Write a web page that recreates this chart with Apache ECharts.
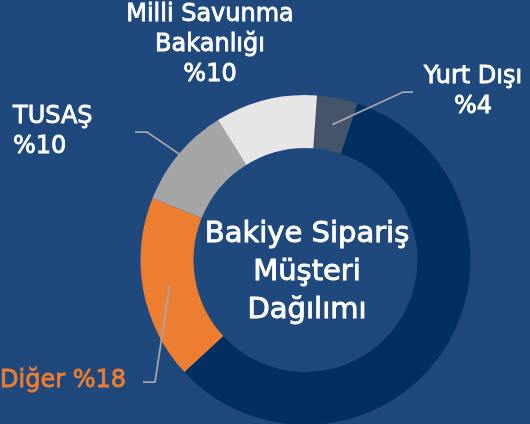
<!DOCTYPE html>
<html>
<head>
<meta charset="utf-8">
<script src="https://cdn.jsdelivr.net/npm/echarts@6/dist/echarts.min.js"></script>
<style>
  html, body { margin: 0; padding: 0; background: #1F497D; }
  #chart { width: 530px; height: 424px; }
</style>
</head>
<body>
<div id="chart"></div>
<script>
// bakiye sipariş, müşteri payları (%), saat yönünde tepeden başlayarak
const customers = ['Yurt Dışı', '', 'Diğer', 'TUSAŞ', 'Milli Savunma Bakanlığı'];
const shares = [4, 58, 18, 10, 10];
const sliceColors = ['#44546A', '#012F61', '#ED7D31', '#A5A5A5', '#E7E6E6'];
const labelColors = ['#FFFFFF', '#FFFFFF', '#ED7D31', '#FFFFFF', '#FFFFFF'];
const centerTitle = 'Bakiye Sipariş\nMüşteri\nDağılımı';

// etiket yerleşimi (sadece görünüm)
const labelNames = ['Yurt Dışı', '', 'Diğer', 'TUSAŞ', 'Milli Savunma\nBakanlığı'];
const labelSep = ['\n', '', ' ', '\n', '\n'];
const onRim = [false, false, false, true, false];
const labelSpots = [
  { x: 473, y: 92, align: 'center', bend: [403, 92], end: [413, 92] },
  null,
  { x: 0, y: 381, align: 'left', bend: [155, 382], end: [143, 382] },
  { x: 13, y: 132, align: 'left', bend: [147, 132], end: [135, 132] },
  { x: 210, y: 45, align: 'center' }
];

const font = 'DejaVu Sans';
const center = [305.5, 260];

function layoutLabel(params) {
  const s = labelSpots[params.dataIndex];
  if (!s) return {};
  const out = { x: s.x, y: s.y, align: s.align, verticalAlign: 'middle' };
  if (s.bend && params.labelLinePoints) {
    out.labelLinePoints = [params.labelLinePoints[0], s.bend, s.end];
  }
  return out;
}

function itemsFor(rim, transparent) {
  return shares.map((v, i) => {
    const show = labelSpots[i] != null && onRim[i] === rim;
    return {
      value: v,
      name: customers[i],
      itemStyle: { color: transparent ? 'rgba(0,0,0,0)' : sliceColors[i] },
      label: { show: show, color: labelColors[i], textBorderColor: labelColors[i] },
      labelLine: { show: show && !!(labelSpots[i] && labelSpots[i].bend) }
    };
  });
}

const labelCommon = {
  position: 'outside',
  formatter: p => labelNames[p.dataIndex] + labelSep[p.dataIndex] + '%' + p.value,
  fontFamily: font,
  fontSize: 24,
  lineHeight: 30,
  textBorderWidth: 0.8
};
const lineCommon = {
  length: 10,
  length2: 10,
  lineStyle: { color: '#A6A6A6', width: 1.75 }
};

const chart = echarts.init(document.getElementById('chart'));
chart.setOption({
  backgroundColor: '#1F497D',
  animation: false,
  title: {
    text: centerTitle,
    left: 307,
    top: 215,
    padding: 0,
    textAlign: 'center',
    textStyle: {
      color: '#FFFFFF',
      textBorderColor: '#FFFFFF',
      textBorderWidth: 0.9,
      fontFamily: font,
      fontWeight: 'normal',
      fontSize: 29,
      lineHeight: 38
    }
  },
  series: [
    {
      type: 'pie',
      center: center,
      radius: [112, 165],
      startAngle: 86,
      clockwise: true,
      avoidLabelOverlap: false,
      emphasis: { disabled: true },
      label: labelCommon,
      labelLine: lineCommon,
      labelLayout: layoutLabel,
      data: itemsFor(true, false)
    },
    {
      type: 'pie',
      center: center,
      radius: [0, 138],
      startAngle: 86,
      clockwise: true,
      silent: true,
      z: 3,
      avoidLabelOverlap: false,
      emphasis: { disabled: true },
      label: labelCommon,
      labelLine: lineCommon,
      labelLayout: layoutLabel,
      data: itemsFor(false, true)
    }
  ]
});
</script>
</body>
</html>
